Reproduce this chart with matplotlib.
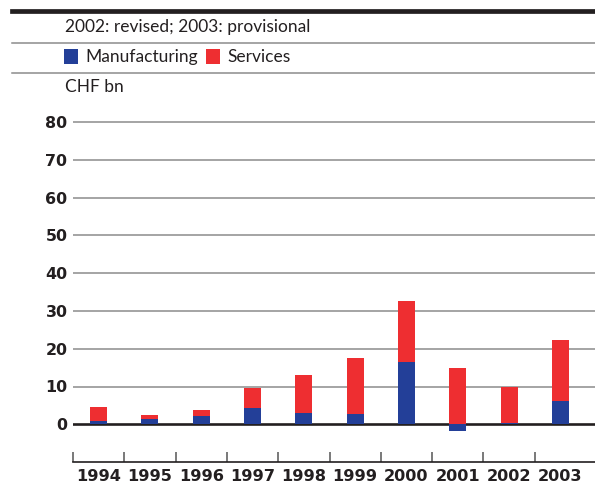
import matplotlib
matplotlib.use('Agg')
import matplotlib.pyplot as plt
from matplotlib.lines import Line2D
from matplotlib.patches import Rectangle

years = ['1994', '1995', '1996', '1997', '1998', '1999', '2000', '2001', '2002', '2003']
manufacturing = [1.0, 1.3, 2.1, 4.2, 2.9, 2.6, 16.4, -1.8, 0.3, 6.1]
services = [3.5, 1.1, 1.6, 5.3, 10.1, 14.9, 16.2, 14.9, 9.5, 16.2]
yticks = [0, 10, 20, 30, 40, 50, 60, 70, 80]

BLUE = '#233f98'
RED = '#ee2e31'
DARK = '#231f20'
GRID = '#8c8c8c'

W, H = 595, 483
fig = plt.figure(figsize=(W / 100, H / 100), dpi=100)

def fx(x):
    return x / W

def fy(y):
    return 1 - y / H

ax = fig.add_axes([fx(73), fy(462), 1 - fx(73), fy(115) - fy(462)])
n = len(years)
xs = list(range(n))
step = 51.3
ax.set_xlim(-0.5, -0.5 + (595 - 73) / step)
ax.set_ylim(-(462 - 424.3) / 3.78, (424.3 - 115) / 3.78)

for v in yticks[1:]:
    ax.axhline(v, color=GRID, lw=1.1, zorder=1)
ax.axhline(0, color=DARK, lw=1.9, zorder=1)

bottoms = [max(m, 0) for m in manufacturing]
ax.bar(xs, manufacturing, width=0.33, color=BLUE, zorder=3, linewidth=0)
ax.bar(xs, services, width=0.33, bottom=bottoms, color=RED, zorder=3, linewidth=0)

for s in ['top', 'right', 'left']:
    ax.spines[s].set_visible(False)
ax.spines['bottom'].set_color(DARK)
ax.spines['bottom'].set_linewidth(1.2)

ax.set_xticks([k - 0.5 for k in range(n)])
ax.set_xticklabels([])
ax.tick_params(axis='x', which='major', direction='in', length=7, width=1.1, color='#555555')
ax.set_xticks(xs, minor=True)
ax.set_xticklabels(years, minor=True, fontsize=11.6, fontweight='bold',
                   family='DejaVu Sans', color=DARK)
ax.tick_params(axis='x', which='minor', length=0, pad=5)

ax.set_yticks(yticks)
ax.set_yticklabels([str(v) for v in yticks], fontsize=11.4, fontweight='bold',
                   family='DejaVu Sans', color=DARK)
ax.tick_params(axis='y', length=0, pad=4)

# header rules
fig.add_artist(Line2D([fx(12), 1], [fy(10.5)] * 2, transform=fig.transFigure, color=DARK, lw=3.4))
fig.add_artist(Line2D([fx(12), 1], [fy(43)] * 2, transform=fig.transFigure, color=GRID, lw=1.1))
fig.add_artist(Line2D([fx(12), 1], [fy(72.5)] * 2, transform=fig.transFigure, color=GRID, lw=1.1))

txt = dict(family=['Lato', 'DejaVu Sans'], fontsize=12.5, color=DARK, va='center', ha='left')
fig.text(fx(65), fy(27), '2002: revised; 2003: provisional', **txt)
fig.add_artist(Rectangle((fx(64), fy(63.5)), 14 / W, 14 / H, transform=fig.transFigure,
                         color=BLUE, lw=0))
fig.text(fx(85), fy(57), 'Manufacturing', **txt)
fig.add_artist(Rectangle((fx(206), fy(63.5)), 14 / W, 14 / H, transform=fig.transFigure,
                         color=RED, lw=0))
fig.text(fx(227), fy(57), 'Services', **txt)
fig.text(fx(65), fy(87), 'CHF bn', **txt)

fig.savefig('out.png', dpi=100)
